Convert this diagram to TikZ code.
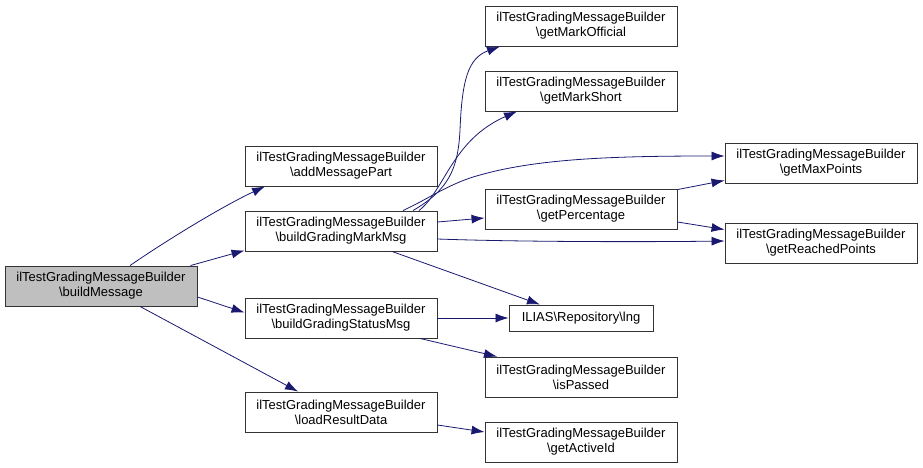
\documentclass[tikz,border=0pt]{standalone}
\usepackage{fontspec}
\setmainfont{Liberation Sans}
\usetikzlibrary{arrows.meta,calc}
\definecolor{edgeblue}{HTML}{191970}
\begin{document}
\begin{tikzpicture}[x=1pt,y=-1pt,
  fn/.style={draw=black!80,line width=0.9pt,rectangle,minimum width=192pt,minimum height=40pt,inner sep=0pt,align=center,font=\fontsize{13}{15}\selectfont},
  cur/.style={fn,fill=black!25},
  call/.style={draw=edgeblue,line width=0.8pt,-{Latex[length=13pt,width=9pt]}}]
\useasboundingbox (0,0) rectangle (923,468);
\node[cur] (bm) at (101,286) {ilTestGradingMessageBuilder\\\textbackslash buildMessage};
\node[fn] (amp) at (341,166) {ilTestGradingMessageBuilder\\\textbackslash addMessagePart};
\node[fn] (bgm) at (341,231) {ilTestGradingMessageBuilder\\\textbackslash buildGradingMarkMsg};
\node[fn] (bgs) at (341,318) {ilTestGradingMessageBuilder\\\textbackslash buildGradingStatusMsg};
\node[fn] (lrd) at (341,412) {ilTestGradingMessageBuilder\\\textbackslash loadResultData};
\node[fn] (gmo) at (581,26) {ilTestGradingMessageBuilder\\\textbackslash getMarkOfficial};
\node[fn] (gms) at (581,91) {ilTestGradingMessageBuilder\\\textbackslash getMarkShort};
\node[fn] (gpc) at (581,209) {ilTestGradingMessageBuilder\\\textbackslash getPercentage};
\node[fn,minimum width=144pt,minimum height=26pt] (lng) at (581,318) {ILIAS\textbackslash Repository\textbackslash lng};
\node[fn] (isp) at (581,377) {ilTestGradingMessageBuilder\\\textbackslash isPassed};
\node[fn] (gai) at (581,442) {ilTestGradingMessageBuilder\\\textbackslash getActiveId};
\node[fn] (gmp) at (821,163) {ilTestGradingMessageBuilder\\\textbackslash getMaxPoints};
\node[fn] (grp) at (821,243) {ilTestGradingMessageBuilder\\\textbackslash getReachedPoints};
% edges from buildMessage
\draw[call] ([xshift=29pt]bm.north) .. controls (170,238) and (225,205) .. ([xshift=-76pt]amp.south);
\draw[call] ([xshift=-7pt]bm.north east) -- ([yshift=1pt]bgm.south west);
\draw[call] ([yshift=-11pt]bm.east) -- ([yshift=-15pt]bgs.north west);
\draw[call] ([xshift=39pt]bm.south) -- ([xshift=-43pt]lrd.north);
% edges from buildGradingMarkMsg
\draw[call] ([xshift=72pt]bgm.north) .. controls (448,190) and (458,170) .. (460,130) .. controls (462,80) and (468,58) .. ([xshift=-81pt]gmo.south);
\draw[call] ([xshift=78pt]bgm.north) .. controls (445,190) and (452,140) .. ([xshift=-64pt]gms.south);
\draw[call] ([xshift=62pt]bgm.north) .. controls (430,198) and (450,183) .. (480,175) .. controls (540,158) and (620,156) .. ([yshift=7pt]gmp.west);
\draw[call] ([yshift=9pt]bgm.east) -- ([yshift=-9pt]gpc.west);
\draw[call] ([yshift=-8pt]bgm.east) .. controls (520,242) and (650,242) .. ([yshift=2pt]grp.west);
\draw[call] ([xshift=51pt]bgm.south) -- ([xshift=-41pt]lng.north);
% other edges
\draw[call] ([yshift=-1pt]gpc.north east) -- ([yshift=3pt]gmp.south west);
\draw[call] ([yshift=-13pt]gpc.east) -- ([yshift=-7pt]grp.north west);
\draw[call] (bgs.east) -- (lng.west);
\draw[call] ([xshift=79pt]bgs.south) -- ([xshift=-84pt]isp.north);
\draw[call] ([yshift=-13pt]lrd.east) -- ([yshift=10pt]gai.west);
\end{tikzpicture}
\end{document}
